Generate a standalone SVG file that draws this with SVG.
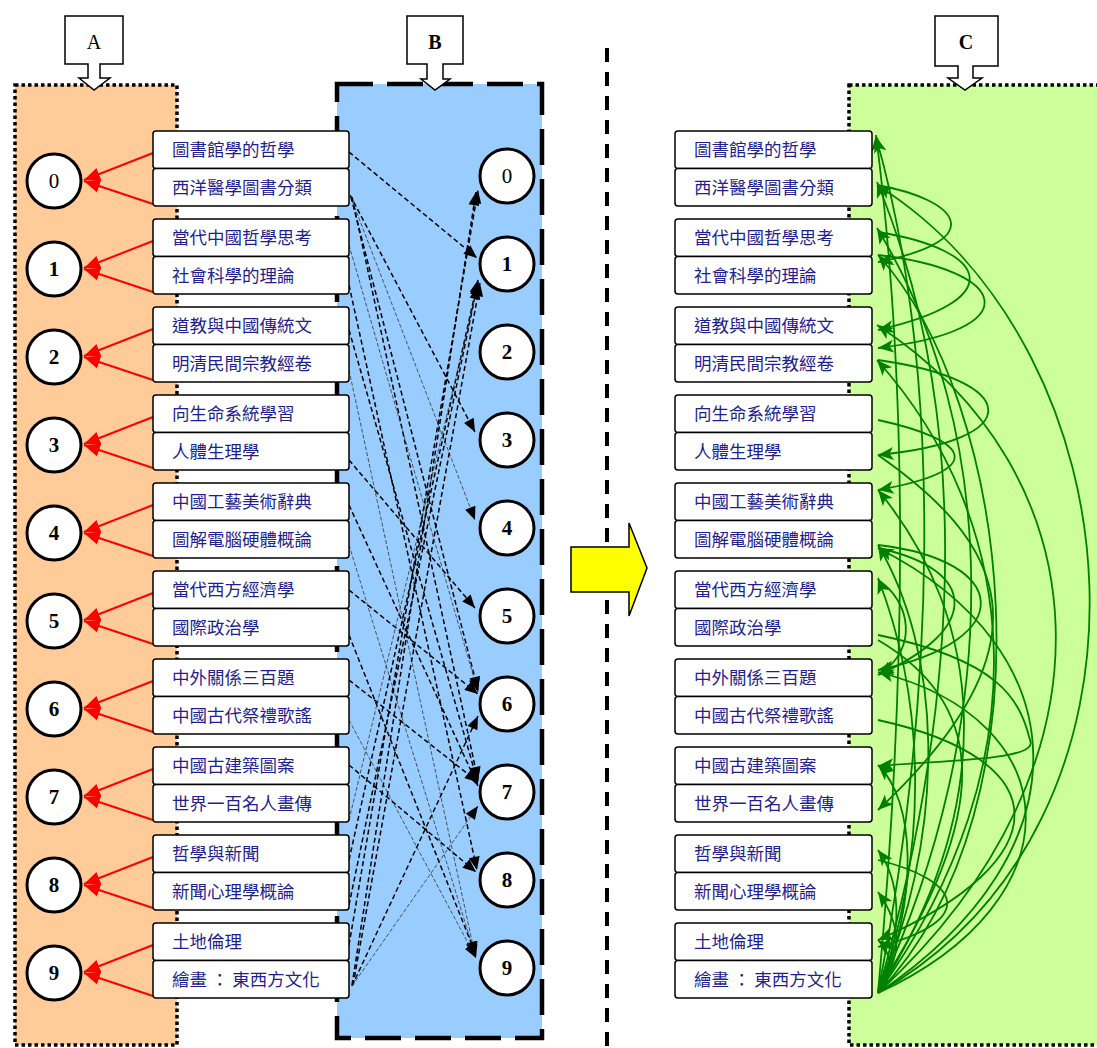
<svg xmlns="http://www.w3.org/2000/svg" width="1097" height="1048" viewBox="0 0 1097 1048">
<style>
.bx{fill:#fff;stroke:#000;stroke-width:1.5}
.bt{font-family:"Noto Sans CJK TC","Noto Sans CJK SC",sans-serif;font-size:17.5px;fill:#1F1F8F}
.cc{fill:#fff;stroke:#000;stroke-width:3}
.cn{font-family:"Liberation Serif",serif;font-size:21px;font-weight:bold;text-anchor:middle;fill:#000}
.cn0{font-weight:normal}
.co{fill:#fff;stroke:#000;stroke-width:1.5}
.cl{font-family:"Liberation Serif",serif;font-size:20px;text-anchor:middle;fill:#000}
.red{stroke:#f00;stroke-width:2;fill:none;marker-end:url(#ar)}
.dl{stroke:#000;stroke-width:1.5;stroke-dasharray:5 3;fill:none;marker-end:url(#ab)}
.dt{stroke:#333;stroke-width:0.8;stroke-dasharray:4 2;fill:none;marker-end:url(#ab)}
.gr{stroke:#008000;stroke-width:1.8;fill:none;marker-end:url(#ag)}
</style>
<defs>
<marker id="ar" viewBox="0 0 12 10" refX="12" refY="5" markerWidth="16" markerHeight="14" markerUnits="userSpaceOnUse" orient="auto"><path d="M0,0 L12,5 L0,10 z" fill="#f00"/></marker>
<marker id="ab" viewBox="0 0 12 10" refX="12" refY="5" markerWidth="14" markerHeight="11" markerUnits="userSpaceOnUse" orient="auto"><path d="M0,0 L12,5 L0,10 z" fill="#000"/></marker>
<marker id="ag" viewBox="0 0 12 10" refX="12" refY="5" markerWidth="19" markerHeight="13" markerUnits="userSpaceOnUse" orient="auto"><path d="M0,0 L12,5 L0,10 L3,5 z" fill="#008000"/></marker>
</defs>

<!-- panels -->
<g id="panelA"><rect x="15" y="85" width="162" height="960" fill="#FFCC99" stroke="#000" stroke-width="3.5" stroke-dasharray="3.5 3"/></g>
<g id="panelB"><rect x="337" y="84" width="205" height="954" fill="#99CCFF" stroke="#000" stroke-width="4.5" stroke-dasharray="36 14"/></g>
<g id="panelC"><rect x="849" y="85" width="260" height="960" fill="#CCFF99" stroke="#000" stroke-width="3.5" stroke-dasharray="3.5 3"/></g>
<g id="separator"><line x1="607" y1="48" x2="607" y2="1048" stroke="#000" stroke-width="4" stroke-dasharray="14 10"/></g>

<!-- callouts -->
<g id="calloutA"><path class="co" d="M65,16 H123 V64 H100 V78 H110 L94,90 L79,78 H88 V64 H65 Z"/><text class="cl" x="94" y="49">A</text></g>
<g id="calloutB"><path class="co" d="M407,16 H463 V64 H443 V79 H450 L435,90 L421,79 H427 V64 H407 Z"/><text class="cl" x="435" y="49" font-weight="bold">B</text></g>
<g id="calloutC"><path class="co" d="M935,16 H998 V66 H973 V78 H982 L965,90 L948,78 H958 V66 H935 Z"/><text class="cl" x="966" y="49" font-weight="bold">C</text></g>

<!-- yellow arrow -->
<g id="bigArrow"><path d="M571,547 H629 V523 L647,568 L629,616 V592 H571 Z" fill="#FFFF00" stroke="#000" stroke-width="1.5"/></g>

<!-- connectors -->
<g id="connectors">
<g id="redArrows">
<path class="red" d="M153,153 L84,180"/><path class="red" d="M153,204 L84,181"/>
<path class="red" d="M153,241 L84,268"/><path class="red" d="M153,292 L84,269"/>
<path class="red" d="M153,329 L84,356"/><path class="red" d="M153,380 L84,357"/>
<path class="red" d="M153,417 L84,444"/><path class="red" d="M153,468 L84,445"/>
<path class="red" d="M153,505 L84,532"/><path class="red" d="M153,556 L84,533"/>
<path class="red" d="M153,593 L84,620"/><path class="red" d="M153,644 L84,621"/>
<path class="red" d="M153,681 L84,708"/><path class="red" d="M153,732 L84,709"/>
<path class="red" d="M153,769 L84,796"/><path class="red" d="M153,820 L84,797"/>
<path class="red" d="M153,857 L84,884"/><path class="red" d="M153,908 L84,885"/>
<path class="red" d="M153,945 L84,972"/><path class="red" d="M153,996 L84,973"/>
</g>
<g id="dashedB">
<path class="dl" d="M349,152 L477,258"/>
<path class="dl" d="M350,195 L475,432"/>
<path class="dt" d="M350,195 L475,520"/>
<path class="dl" d="M351,197 L478,690"/>
<path class="dl" d="M352,197 L478,780"/>
<path class="dt" d="M349,245 L478,692"/>
<path class="dl" d="M349,285 L477,870"/>
<path class="dl" d="M349,330 L478,783"/>
<path class="dt" d="M349,370 L475,955"/>
<path class="dl" d="M349,460 L475,608"/>
<path class="dl" d="M349,505 L478,786"/>
<path class="dt" d="M349,545 L476,958"/>
<path class="dl" d="M349,590 L478,694"/>
<path class="dl" d="M349,635 L476,955"/>
<path class="dl" d="M349,680 L478,782"/>
<path class="dt" d="M349,720 L476,958"/>
<path class="dl" d="M349,765 L476,872"/>
<path class="dl" d="M349,945 L478,190"/>
<path class="dl" d="M352,985 L476,192"/>
<path class="dl" d="M349,860 L478,280"/>
<path class="dl" d="M349,905 L478,282"/>
<path class="dl" d="M353,985 L480,283"/>
<path class="dl" d="M352,986 L478,716"/>
<path class="dt" d="M352,986 L478,806"/>
<path class="dt" d="M349,820 L478,286"/>
</g>
<g id="greenC">
<path class="gr" d="M878,993 C905,700 910,400 876,135"/>
<path class="gr" d="M878,993 C935,700 945,380 876,137"/>
<path class="gr" d="M878,993 C960,700 975,420 877,182"/>
<path class="gr" d="M878,993 C1005,720 1000,430 877,228"/>
<path class="gr" d="M878,993 C1180,820 1140,350 877,185"/>
<path class="gr" d="M878,993 C1060,800 1010,400 878,255"/>
<path class="gr" d="M878,993 C1130,760 1100,470 877,325"/>
<path class="gr" d="M878,993 C1045,760 1020,520 877,360"/>
<path class="gr" d="M878,993 C1000,800 985,620 878,490"/>
<path class="gr" d="M878,993 C950,820 940,650 878,545"/>
<path class="gr" d="M878,993 C930,850 925,700 878,578"/>
<path class="gr" d="M878,993 C1080,900 1070,720 878,672"/>
<path class="gr" d="M878,993 C920,900 915,800 878,765"/>
<path class="gr" d="M878,993 C905,930 900,880 878,850"/>
<path class="gr" d="M878,993 C895,970 890,950 878,940"/>
<path class="gr" d="M878,990 C900,960 905,930 878,892"/>
<path class="gr" d="M877,185 C960,200 990,240 878,262"/>
<path class="gr" d="M878,232 C990,250 1010,300 878,330"/>
<path class="gr" d="M878,255 C1010,270 1030,330 878,348"/>
<path class="gr" d="M878,360 C1020,380 1030,440 878,455"/>
<path class="gr" d="M878,420 C970,440 990,470 878,490"/>
<path class="gr" d="M878,545 C1010,560 1020,640 878,670"/>
<path class="gr" d="M878,548 C980,570 980,630 878,675"/>
<path class="gr" d="M878,580 C910,600 920,650 878,675"/>
<path class="gr" d="M878,993 C1090,850 1080,650 878,548"/>
<path class="gr" d="M878,635 C1000,660 1020,700 1030,740 C1040,760 950,760 878,766"/>
<path class="gr" d="M878,720 C1060,760 1060,860 878,940"/>
<path class="gr" d="M878,455 C1000,540 1060,640 878,810"/>
<path class="gr" d="M878,860 C960,880 980,920 878,947"/>
<path class="gr" d="M878,640 C980,700 1000,800 878,990"/>
</g>
</g>

<!-- A side nodes -->
<g id="A0"><circle class="cc" cx="54" cy="181" r="27"/><text class="cn cn0" x="54" y="188">0</text></g>
<g id="A1"><circle class="cc" cx="54" cy="269" r="27"/><text class="cn" x="54" y="276">1</text></g>
<g id="A2"><circle class="cc" cx="54" cy="357" r="27"/><text class="cn" x="54" y="364">2</text></g>
<g id="A3"><circle class="cc" cx="54" cy="445" r="27"/><text class="cn" x="54" y="452">3</text></g>
<g id="A4"><circle class="cc" cx="54" cy="533" r="27"/><text class="cn" x="54" y="540">4</text></g>
<g id="A5"><circle class="cc" cx="54" cy="621" r="27"/><text class="cn" x="54" y="628">5</text></g>
<g id="A6"><circle class="cc" cx="54" cy="709" r="27"/><text class="cn" x="54" y="716">6</text></g>
<g id="A7"><circle class="cc" cx="54" cy="797" r="27"/><text class="cn" x="54" y="804">7</text></g>
<g id="A8"><circle class="cc" cx="54" cy="885" r="27"/><text class="cn" x="54" y="892">8</text></g>
<g id="A9"><circle class="cc" cx="54" cy="973" r="27"/><text class="cn" x="54" y="980">9</text></g>

<!-- B side nodes -->
<g id="B0"><circle class="cc" cx="507" cy="176" r="27"/><text class="cn cn0" x="507" y="183">0</text></g>
<g id="B1"><circle class="cc" cx="507" cy="264" r="27"/><text class="cn" x="507" y="271">1</text></g>
<g id="B2"><circle class="cc" cx="507" cy="352" r="27"/><text class="cn" x="507" y="359">2</text></g>
<g id="B3"><circle class="cc" cx="507" cy="440" r="27"/><text class="cn" x="507" y="447">3</text></g>
<g id="B4"><circle class="cc" cx="507" cy="528" r="27"/><text class="cn" x="507" y="535">4</text></g>
<g id="B5"><circle class="cc" cx="507" cy="616" r="27"/><text class="cn" x="507" y="623">5</text></g>
<g id="B6"><circle class="cc" cx="507" cy="704" r="27"/><text class="cn" x="507" y="711">6</text></g>
<g id="B7"><circle class="cc" cx="507" cy="792" r="27"/><text class="cn" x="507" y="799">7</text></g>
<g id="B8"><circle class="cc" cx="507" cy="880" r="27"/><text class="cn" x="507" y="887">8</text></g>
<g id="B9"><circle class="cc" cx="507" cy="968" r="27"/><text class="cn" x="507" y="975">9</text></g>

<!-- left book boxes -->
<g id="L0"><rect class="bx" x="153" y="131" width="196" height="37.5" rx="3"/><text class="bt" x="172" y="156">圖書館學的哲學</text></g>
<g id="L1"><rect class="bx" x="153" y="168.5" width="196" height="37.5" rx="3"/><text class="bt" x="172" y="193.5">西洋醫學圖書分類</text></g>
<g id="L2"><rect class="bx" x="153" y="219" width="196" height="37.5" rx="3"/><text class="bt" x="172" y="244">當代中國哲學思考</text></g>
<g id="L3"><rect class="bx" x="153" y="256.5" width="196" height="37.5" rx="3"/><text class="bt" x="172" y="281.5">社會科學的理論</text></g>
<g id="L4"><rect class="bx" x="153" y="307" width="196" height="37.5" rx="3"/><text class="bt" x="172" y="332">道教與中國傳統文</text></g>
<g id="L5"><rect class="bx" x="153" y="344.5" width="196" height="37.5" rx="3"/><text class="bt" x="172" y="369.5">明清民間宗教經卷</text></g>
<g id="L6"><rect class="bx" x="153" y="395" width="196" height="37.5" rx="3"/><text class="bt" x="172" y="420">向生命系統學習</text></g>
<g id="L7"><rect class="bx" x="153" y="432.5" width="196" height="37.5" rx="3"/><text class="bt" x="172" y="457.5">人體生理學</text></g>
<g id="L8"><rect class="bx" x="153" y="483" width="196" height="37.5" rx="3"/><text class="bt" x="172" y="508">中國工藝美術辭典</text></g>
<g id="L9"><rect class="bx" x="153" y="520.5" width="196" height="37.5" rx="3"/><text class="bt" x="172" y="545.5">圖解電腦硬體概論</text></g>
<g id="L10"><rect class="bx" x="153" y="571" width="196" height="37.5" rx="3"/><text class="bt" x="172" y="596">當代西方經濟學</text></g>
<g id="L11"><rect class="bx" x="153" y="608.5" width="196" height="37.5" rx="3"/><text class="bt" x="172" y="633.5">國際政治學</text></g>
<g id="L12"><rect class="bx" x="153" y="659" width="196" height="37.5" rx="3"/><text class="bt" x="172" y="684">中外關係三百題</text></g>
<g id="L13"><rect class="bx" x="153" y="696.5" width="196" height="37.5" rx="3"/><text class="bt" x="172" y="721.5">中國古代祭禮歌謠</text></g>
<g id="L14"><rect class="bx" x="153" y="747" width="196" height="37.5" rx="3"/><text class="bt" x="172" y="772">中國古建築圖案</text></g>
<g id="L15"><rect class="bx" x="153" y="784.5" width="196" height="37.5" rx="3"/><text class="bt" x="172" y="809.5">世界一百名人畫傳</text></g>
<g id="L16"><rect class="bx" x="153" y="835" width="196" height="37.5" rx="3"/><text class="bt" x="172" y="860">哲學與新聞</text></g>
<g id="L17"><rect class="bx" x="153" y="872.5" width="196" height="37.5" rx="3"/><text class="bt" x="172" y="897.5">新聞心理學概論</text></g>
<g id="L18"><rect class="bx" x="153" y="923" width="196" height="37.5" rx="3"/><text class="bt" x="172" y="948">土地倫理</text></g>
<g id="L19"><rect class="bx" x="153" y="960.5" width="196" height="37.5" rx="3"/><text class="bt" x="172" y="985.5">繪畫 ： 東西方文化</text></g>

<!-- right book boxes -->
<g id="R0"><rect class="bx" x="675" y="131" width="197" height="37.5" rx="3"/><text class="bt" x="694" y="156">圖書館學的哲學</text></g>
<g id="R1"><rect class="bx" x="675" y="168.5" width="197" height="37.5" rx="3"/><text class="bt" x="694" y="193.5">西洋醫學圖書分類</text></g>
<g id="R2"><rect class="bx" x="675" y="219" width="197" height="37.5" rx="3"/><text class="bt" x="694" y="244">當代中國哲學思考</text></g>
<g id="R3"><rect class="bx" x="675" y="256.5" width="197" height="37.5" rx="3"/><text class="bt" x="694" y="281.5">社會科學的理論</text></g>
<g id="R4"><rect class="bx" x="675" y="307" width="197" height="37.5" rx="3"/><text class="bt" x="694" y="332">道教與中國傳統文</text></g>
<g id="R5"><rect class="bx" x="675" y="344.5" width="197" height="37.5" rx="3"/><text class="bt" x="694" y="369.5">明清民間宗教經卷</text></g>
<g id="R6"><rect class="bx" x="675" y="395" width="197" height="37.5" rx="3"/><text class="bt" x="694" y="420">向生命系統學習</text></g>
<g id="R7"><rect class="bx" x="675" y="432.5" width="197" height="37.5" rx="3"/><text class="bt" x="694" y="457.5">人體生理學</text></g>
<g id="R8"><rect class="bx" x="675" y="483" width="197" height="37.5" rx="3"/><text class="bt" x="694" y="508">中國工藝美術辭典</text></g>
<g id="R9"><rect class="bx" x="675" y="520.5" width="197" height="37.5" rx="3"/><text class="bt" x="694" y="545.5">圖解電腦硬體概論</text></g>
<g id="R10"><rect class="bx" x="675" y="571" width="197" height="37.5" rx="3"/><text class="bt" x="694" y="596">當代西方經濟學</text></g>
<g id="R11"><rect class="bx" x="675" y="608.5" width="197" height="37.5" rx="3"/><text class="bt" x="694" y="633.5">國際政治學</text></g>
<g id="R12"><rect class="bx" x="675" y="659" width="197" height="37.5" rx="3"/><text class="bt" x="694" y="684">中外關係三百題</text></g>
<g id="R13"><rect class="bx" x="675" y="696.5" width="197" height="37.5" rx="3"/><text class="bt" x="694" y="721.5">中國古代祭禮歌謠</text></g>
<g id="R14"><rect class="bx" x="675" y="747" width="197" height="37.5" rx="3"/><text class="bt" x="694" y="772">中國古建築圖案</text></g>
<g id="R15"><rect class="bx" x="675" y="784.5" width="197" height="37.5" rx="3"/><text class="bt" x="694" y="809.5">世界一百名人畫傳</text></g>
<g id="R16"><rect class="bx" x="675" y="835" width="197" height="37.5" rx="3"/><text class="bt" x="694" y="860">哲學與新聞</text></g>
<g id="R17"><rect class="bx" x="675" y="872.5" width="197" height="37.5" rx="3"/><text class="bt" x="694" y="897.5">新聞心理學概論</text></g>
<g id="R18"><rect class="bx" x="675" y="923" width="197" height="37.5" rx="3"/><text class="bt" x="694" y="948">土地倫理</text></g>
<g id="R19"><rect class="bx" x="675" y="960.5" width="197" height="37.5" rx="3"/><text class="bt" x="694" y="985.5">繪畫 ： 東西方文化</text></g>
</svg>
